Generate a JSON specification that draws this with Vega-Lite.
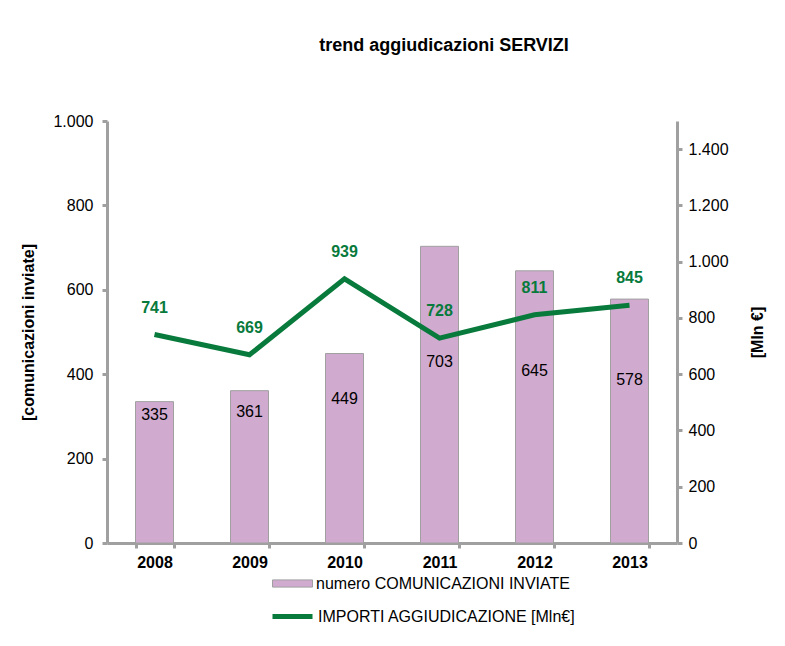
{
  "$schema": "https://vega.github.io/schema/vega-lite/v6.json",
  "width": 570,
  "height": 422,
  "autosize": "none",
  "padding": {"left": 107, "top": 121, "right": 108, "bottom": 103},
  "background": "white",
  "config": {
    "font": "Liberation Sans",
    "view": {"stroke": null},
    "axis": {"domainColor": "#a0a0a0", "domainWidth": 3, "tickColor": "#a0a0a0", "tickWidth": 3, "tickSize": 5, "grid": false, "labelFont": "Liberation Sans", "titleFont": "Liberation Sans", "labelColor": "#000", "titleColor": "#000"}
  },
  "title": {"text": "trend aggiudicazioni SERVIZI", "fontSize": 18, "fontWeight": "bold", "font": "Liberation Sans", "anchor": "middle", "dx": 52, "offset": 58, "color": "#000"},
  "data": {"values": [
    {"year": "2008", "n": 335, "importi": 741},
    {"year": "2009", "n": 361, "importi": 669},
    {"year": "2010", "n": 449, "importi": 939},
    {"year": "2011", "n": 703, "importi": 728},
    {"year": "2012", "n": 645, "importi": 811},
    {"year": "2013", "n": 578, "importi": 845}
  ]},
  "encoding": {
    "x": {"field": "year", "type": "nominal", "scale": {"paddingInner": 0.6, "paddingOuter": 0.3},
      "axis": {"title": null, "labelAngle": 0, "labelFontSize": 16, "labelFontWeight": "bold", "labelPadding": 6, "tickBand": "extent"}}
  },
  "layer": [
    {
      "mark": {"type": "bar", "stroke": "#a0a0a0", "strokeWidth": 1},
      "encoding": {
        "y": {"field": "n", "type": "quantitative", "scale": {"domain": [0, 1000]},
          "axis": {"orient": "left", "values": [0, 200, 400, 600, 800, 1000], "labelExpr": "replace(format(datum.value, ','), ',', '.')", "labelFontSize": 16, "labelPadding": 9, "title": "[comunicazioni inviate]", "titleFontSize": 16, "titleFontWeight": "bold", "titlePadding": 16}},
        "fill": {"datum": "numero COMUNICAZIONI INVIATE", "type": "nominal", "scale": {"range": ["#d0aacf"]},
          "legend": {"title": null, "orient": "none", "legendX": 165, "legendY": 442, "symbolType": "M-1,-0.18H1V0.18H-1Z", "symbolSize": 1600, "symbolStrokeColor": "#a0a0a0", "symbolStrokeWidth": 1, "labelFontSize": 16, "labelFont": "Liberation Sans", "labelColor": "#000", "labelOffset": 3, "labelLimit": 0, "padding": 0}}
      }
    },
    {
      "mark": {"type": "line", "strokeWidth": 5},
      "encoding": {
        "y": {"field": "importi", "type": "quantitative", "scale": {"domain": [0, 1500]},
          "axis": {"orient": "right", "values": [0, 200, 400, 600, 800, 1000, 1200, 1400], "labelExpr": "replace(format(datum.value, ','), ',', '.')", "labelFontSize": 16, "labelPadding": 6, "title": "[Mln €]", "titleFontSize": 16, "titleFontWeight": "bold", "titleAngle": -90, "titlePadding": 37}},
        "stroke": {"datum": "IMPORTI AGGIUDICAZIONE [Mln€]", "type": "nominal", "scale": {"range": ["#087a3c"]},
          "legend": {"title": null, "orient": "none", "legendX": 163, "legendY": 473, "symbolType": "stroke", "symbolSize": 1600, "symbolStrokeWidth": 5, "labelFontSize": 16, "labelFont": "Liberation Sans", "labelColor": "#000", "labelOffset": 3, "labelLimit": 0, "padding": 0}}
      }
    },
    {
      "mark": {"type": "text", "dy": -27, "fontSize": 16, "fontWeight": "bold", "color": "#087a3c", "font": "Liberation Sans"},
      "encoding": {
        "y": {"field": "importi", "type": "quantitative", "scale": {"domain": [0, 1500]}, "axis": null},
        "text": {"field": "importi", "type": "quantitative"}
      }
    },
    {
      "mark": {"type": "text", "fontSize": 16, "color": "#000", "font": "Liberation Sans"},
      "encoding": {
        "y": {"field": "n", "type": "quantitative", "scale": {"domain": [-550, 2374]}, "axis": null},
        "text": {"field": "n", "type": "quantitative"}
      }
    }
  ],
  "resolve": {"scale": {"y": "independent"}}
}
